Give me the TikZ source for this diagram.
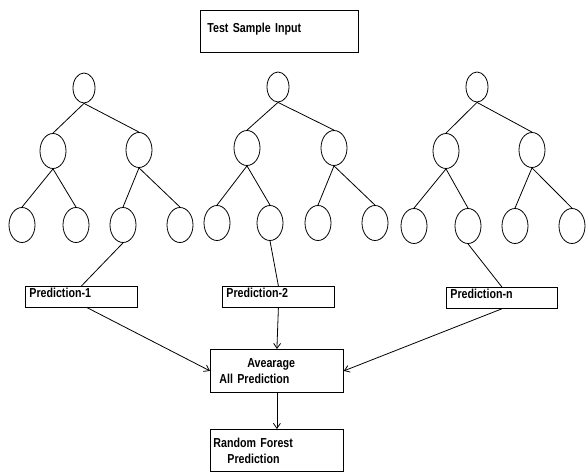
\documentclass[tikz,border=0pt]{standalone}
\usepackage{fontspec}
\setmainfont{Liberation Sans}[FakeStretch=0.82]
\usetikzlibrary{shapes.geometric,arrows.meta}

\begin{document}
\begin{tikzpicture}[x=1pt, y=-1pt, line width=0.8pt,
    font=\fontsize{13pt}{17pt}\selectfont\bfseries,
    root node/.style={ellipse,draw,minimum width=22pt,minimum height=30pt,inner sep=0pt},
    tree node/.style={ellipse,draw,minimum width=26pt,minimum height=35pt,inner sep=0pt},
    pred box/.style={draw,anchor=north west,inner xsep=4pt,inner ysep=2pt,align=left,
                     text height=9pt,text depth=8pt},
    main box/.style={draw,anchor=north west,inner xsep=3pt,inner ysep=0pt,align=left,
                     minimum width=133pt,text width=127pt},
    arr/.style={-{Straight Barb[length=5pt,width=7pt]}}]

  \useasboundingbox (0,0) rectangle (587,473);

  \node[draw,anchor=north west,inner xsep=7pt,inner ysep=2pt,text width=144pt,
        text height=20pt,text depth=18pt,align=left] (input) at (200,10) {Test Sample Input};

  % first tree
  \node[root node] (a1) at (84,88) {};
  \node[tree node] (a2) at (53,151) {};
  \node[tree node] (a3) at (139,150) {};
  \node[tree node] (a4) at (22,225) {};
  \node[tree node] (a5) at (76,225) {};
  \node[tree node] (a6) at (123,225) {};
  \node[tree node] (a7) at (180,225) {};

  % second tree
  \node[root node] (b1) at (278,87) {};
  \node[tree node] (b2) at (247,148) {};
  \node[tree node] (b3) at (334,148) {};
  \node[tree node] (b4) at (217,223) {};
  \node[tree node] (b5) at (270,223) {};
  \node[tree node] (b6) at (318,223) {};
  \node[tree node] (b7) at (375,223) {};

  % last tree
  \node[root node] (c1) at (477,87) {};
  \node[tree node] (c2) at (446,151) {};
  \node[tree node] (c3) at (532,150) {};
  \node[tree node] (c4) at (414,226) {};
  \node[tree node] (c5) at (468,226) {};
  \node[tree node] (c6) at (515,226) {};
  \node[tree node] (c7) at (572,226) {};

  \node[pred box,text width=104pt] (p1) at (25,286) {Prediction-1};
  \node[pred box,text width=104pt] (p2) at (222,286) {Prediction-2};
  \node[pred box,text width=103pt] (pn) at (446,287) {Prediction-n};

  \node[main box,minimum height=43pt] (avg) at (210,349)
      {\hspace*{34pt}Avearage\\[-1pt]\hspace*{6pt}All Prediction};
  \node[main box,minimum height=42pt] (rf) at (210,429)
      {Random Forest\\[-1pt]\hspace*{14pt}Prediction};

\path
    (a1.south) edge (a2.north)
    (a1.south) edge (a3.north)
    (a2.south) edge (a4.north)
    (a2.south) edge (a5.north)
    (a3.south) edge (a6.north)
    (a3.south) edge (a7.north)

    (b1.south) edge (b2.north)
    (b1.south) edge (b3.north)
    (b2.south) edge (b4.north)
    (b2.south) edge (b5.north)
    (b3.south) edge (b6.north)
    (b3.south) edge (b7.north)

    (c1.south) edge (c2.north)
    (c1.south) edge (c3.north)
    (c2.south) edge (c4.north)
    (c2.south) edge (c5.north)
    (c3.south) edge (c6.north)
    (c3.south) edge (c7.north)

    (a6.south) edge (p1.north)
    (b5.south) edge (p2.north)
    (c5.south) edge (pn.north);

\path[arr]
    ([xshift=6pt]p1.south) edge (avg.west)
    (p2.south) edge (avg.north)
    (pn.south) edge (avg.east)
    (avg.south) edge (rf.north);

\end{tikzpicture}
\end{document}
